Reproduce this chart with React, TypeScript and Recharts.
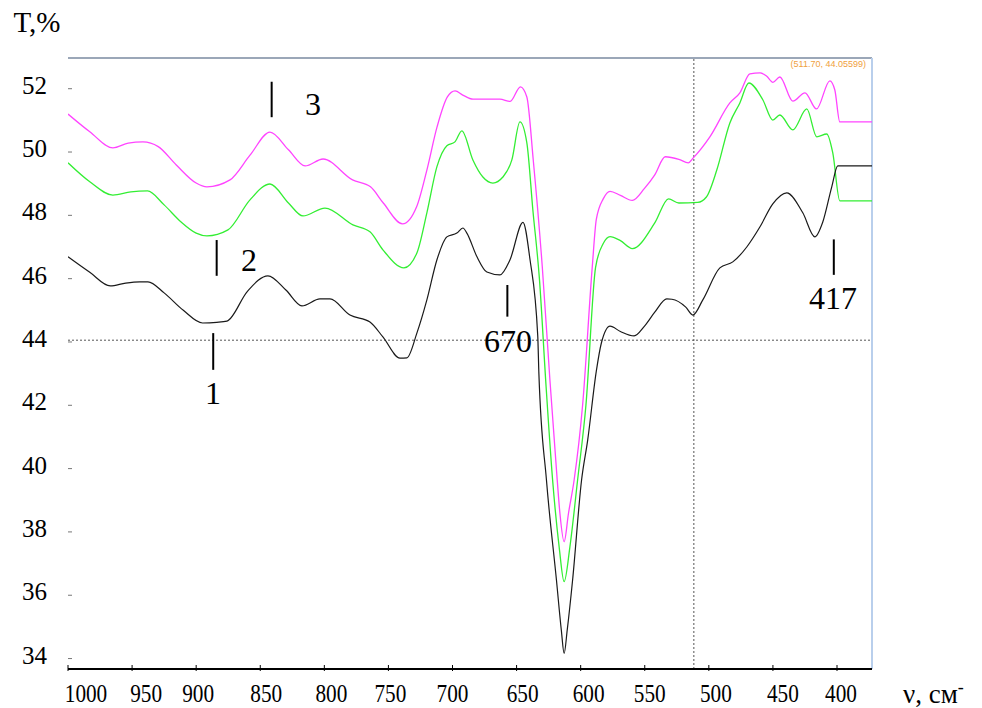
import React from 'react'
import { LineChart, Line, XAxis, YAxis, ReferenceLine } from 'recharts'

// [wavenumber cm-1, transmittance %]
const sample1: [number, number][] = [
  [1000, 46.69], [983, 46.2], [967, 45.77], [955, 45.86], [944, 45.9], [937.6, 45.9],
  [925, 45.55], [910, 45.0], [895, 44.6], [884, 44.62], [876, 44.66], [860, 45.6],
  [844, 46.09], [830, 45.64], [817.5, 45.14], [803.4, 45.36], [795.6, 45.36], [780, 44.85],
  [764.4, 44.63], [754.3, 44.16], [741, 43.49], [735.6, 43.5], [727.8, 44.28], [720, 45.33],
  [712.2, 46.59], [704.4, 47.32], [696.6, 47.44], [691.9, 47.6], [688.8, 47.44], [680.9, 46.69],
  [673.2, 46.21], [663, 46.12], [655.2, 46.59], [645, 47.78], [639.6, 46.62], [633.5, 44.2],
  [632.6, 43.0], [626.7, 39.64], [618.9, 36.48], [615.1, 34.9], [612.9, 34.16], [610.5, 34.9],
  [606.3, 36.48], [599.3, 39.64], [594.5, 40.91], [587.8, 43.08], [583.9, 43.96], [577.1, 44.5],
  [569, 44.33], [558.3, 44.19], [550.2, 44.5], [542.2, 44.94], [532.8, 45.36], [528.8, 45.35],
  [518, 45.1], [512.5, 44.85], [504.7, 45.33], [491.4, 46.34], [481.3, 46.53], [470.4, 47.0],
  [460.2, 47.63], [450.1, 48.36], [439.2, 48.71], [426.7, 48.08], [417.3, 47.32], [411.1, 47.79],
  [404.1, 48.9], [399.4, 49.56], [372.7, 49.56],
]

const sample2: [number, number][] = [
  [1000, 49.66], [983, 49.06], [965, 48.64], [951, 48.74], [938, 48.77], [925, 48.33],
  [912, 47.8], [900, 47.44], [891.6, 47.35], [875.2, 47.54], [858, 48.49], [842.4, 48.99],
  [828, 48.39], [816.7, 47.98], [799.5, 48.23], [777.7, 47.7], [764.4, 47.48], [754.3, 46.91],
  [737.9, 46.34], [727.8, 46.81], [720, 48.08], [712.2, 49.53], [704.4, 50.2], [698.1, 50.32],
  [692.7, 50.67], [684.1, 49.75], [676.3, 49.21], [668.5, 49.02], [660.7, 49.21], [653.7, 49.75],
  [647.4, 50.95], [642, 50.29], [637.3, 48.17], [632.2, 46.0], [627, 42.6], [621.9, 39.64],
  [616.8, 37.53], [612.9, 36.43], [608.4, 37.53], [602.4, 39.64], [595.9, 42.0], [588.4, 46.35],
  [582.4, 47.11], [577.1, 47.33], [569, 47.2], [559.7, 46.95], [542.2, 47.76], [531.4, 48.52],
  [523.4, 48.39], [508.7, 48.41], [501.9, 48.58], [493.8, 49.43], [483.6, 50.92], [475.8, 51.55],
  [468.8, 52.18], [457.9, 51.65], [450.1, 51.01], [444.6, 51.17], [434.5, 50.7], [423.6, 51.36],
  [415.8, 50.48], [408, 50.57], [403.3, 49.97], [397.8, 48.46], [372.7, 48.46],
]

const sample3: [number, number][] = [
  [1000, 51.2], [983, 50.64], [965, 50.13], [953, 50.28], [941.5, 50.32], [929.6, 50.17],
  [915.5, 49.59], [900, 49.02], [891.6, 48.9], [873.6, 49.12], [858, 49.9], [842.4, 50.63],
  [828, 50.07], [815, 49.56], [801, 49.78], [778, 49.12], [764, 48.9], [754, 48.39],
  [739, 47.73], [728, 48.27], [720, 49.43], [712, 50.8], [704, 51.74], [698, 51.93],
  [692, 51.8], [684, 51.67], [663, 51.67], [655, 51.6], [647, 52.06], [642, 51.74],
  [637, 49.75], [630, 46.4], [624, 42.8], [618.3, 39.64], [616.2, 38.59], [612.9, 37.69],
  [609.5, 38.59], [605.1, 39.64], [598.5, 42.0], [591, 46.35], [587.8, 47.87], [582.4, 48.52],
  [577.1, 48.76], [569, 48.63], [559.7, 48.47], [550.2, 48.85], [542.2, 49.28], [534, 49.85],
  [523.4, 49.77], [516, 49.66], [512.5, 49.8], [499.2, 50.48], [483.6, 51.55], [475.8, 51.87],
  [468, 52.47], [460, 52.5], [455, 52.4], [450, 52.2], [444.6, 52.37], [434.5, 51.61],
  [425, 51.87], [416, 51.36], [405.6, 52.25], [401.7, 51.96], [397.8, 50.95], [372.7, 50.95],
]

const nuTicks = [1000, 950, 900, 850, 800, 750, 700, 650, 600, 550, 500, 450, 400]
const tTicks = [34, 36, 38, 40, 42, 44, 46, 48, 50, 52]

const cursorNu = 511.7
const cursorT = 44.05599

const SERIF = '"Liberation Serif", "Times New Roman", serif'

const toRows = (pts: [number, number][]) => pts.map(([nu, t]) => ({ nu, t }))

// hand-placed labels in the original sit a bit right of their ticks
const labelShift: Record<number, number> = {
  1000: 18, 950: 14, 900: 2, 850: 6, 800: 7, 750: 2, 700: 0, 650: 6, 600: 8, 550: 5, 500: 7, 450: 10, 400: 4,
}

function NuTick(props: any) {
  const { x, y, payload } = props
  const v = payload.value
  return (
    <g>
      <line x1={x} x2={x} y1={y - 4} y2={y + 2} stroke="#000" strokeWidth={1} />
      <text
        transform={`translate(${x + (labelShift[v] ?? 0)}, ${y + 33}) scale(0.85, 1)`}
        textAnchor="middle"
        fontFamily={SERIF}
        fontSize={25}
        fill="#000"
      >
        {v}
      </text>
    </g>
  )
}

function TTick(props: any) {
  const { y, payload } = props
  return (
    <g>
      <line x1={68} x2={72} y1={y} y2={y} stroke="#777" strokeWidth={1} />
      <text x={47} y={y + 5} textAnchor="end" fontFamily={SERIF} fontSize={25} fill="#000">
        {payload.value}
      </text>
    </g>
  )
}

function Note({ x, y, size = 32, children }: { x: number; y: number; size?: number; children: React.ReactNode }) {
  return (
    <div
      style={{
        position: 'absolute',
        left: x,
        top: y,
        transform: 'translate(-50%, -50%)',
        fontFamily: SERIF,
        fontSize: size,
        lineHeight: 1,
        whiteSpace: 'nowrap',
        color: '#000',
      }}
    >
      {children}
    </div>
  )
}

const mark = (nu: number, t1: number, t2: number) => (
  <ReferenceLine
    key={`${nu}-${t1}`}
    segment={[{ x: nu, y: t1 }, { x: nu, y: t2 }]}
    stroke="#000"
    strokeWidth={2}
  />
)

export default function App() {
  return (
    <div style={{ position: 'absolute', left: 0, top: 0, width: 982, height: 708, background: '#fff' }}>
      <LineChart width={982} height={708} margin={{ top: 58, right: 110, left: 0, bottom: 0 }}>
        <XAxis
          dataKey="nu"
          type="number"
          domain={[372.7, 1000]}
          reversed
          allowDataOverflow
          ticks={nuTicks}
          interval={0}
          height={39}
          tickSize={0}
          tickMargin={0}
          tickLine={false}
          axisLine={{ stroke: '#000', strokeWidth: 2 }}
          tick={<NuTick />}
        />
        <YAxis
          type="number"
          domain={[33.67, 52.97]}
          allowDataOverflow
          ticks={tTicks}
          interval={0}
          width={68}
          tickSize={0}
          tickMargin={0}
          tickLine={false}
          axisLine={false}
          tick={<TTick />}
        />
        <ReferenceLine y={52.97} stroke="#9ba7b8" strokeWidth={2} />
        <ReferenceLine x={372.7} stroke="#b9cfec" strokeWidth={2} />
        <ReferenceLine y={cursorT} stroke="#555" strokeDasharray="2 2" strokeWidth={1} />
        <ReferenceLine x={cursorNu} stroke="#555" strokeDasharray="2 2" strokeWidth={1} />
        {mark(841.1, 52.22, 51.1)}
        {mark(884.0, 47.22, 46.09)}
        {mark(886.7, 44.28, 43.12)}
        {mark(657.2, 45.8, 44.8)}
        {mark(402.5, 47.24, 46.12)}
        <Line data={toRows(sample3)} dataKey="t" type="monotone" stroke="#ff44ff" strokeWidth={1.3} dot={false} isAnimationActive={false} />
        <Line data={toRows(sample2)} dataKey="t" type="monotone" stroke="#33ee33" strokeWidth={1.3} dot={false} isAnimationActive={false} />
        <Line data={toRows(sample1)} dataKey="t" type="monotone" stroke="#1a1a1a" strokeWidth={1.2} dot={false} isAnimationActive={false} />
      </LineChart>

      <Note x={37} y={22} size={29}>T,%</Note>
      <Note x={313} y={104}>3</Note>
      <Note x={249} y={260}>2</Note>
      <Note x={213} y={393}>1</Note>
      <Note x={508} y={341}>670</Note>
      <Note x={833} y={298}>417</Note>
      <div
        style={{
          position: 'absolute',
          left: 903,
          top: 681,
          fontFamily: SERIF,
          fontSize: 27,
          lineHeight: 1,
          whiteSpace: 'nowrap',
          color: '#000',
        }}
      >
        ν, см<span style={{ fontSize: 18, verticalAlign: 'super', lineHeight: 0 }}>-</span>
      </div>
      <div
        style={{
          position: 'absolute',
          right: 982 - 866,
          top: 60,
          fontFamily: '"Liberation Sans", Arial, sans-serif',
          fontSize: 9,
          lineHeight: 1,
          color: '#f0a040',
          whiteSpace: 'nowrap',
        }}
      >
        ({cursorNu.toFixed(2)}, {cursorT})
      </div>
    </div>
  )
}
